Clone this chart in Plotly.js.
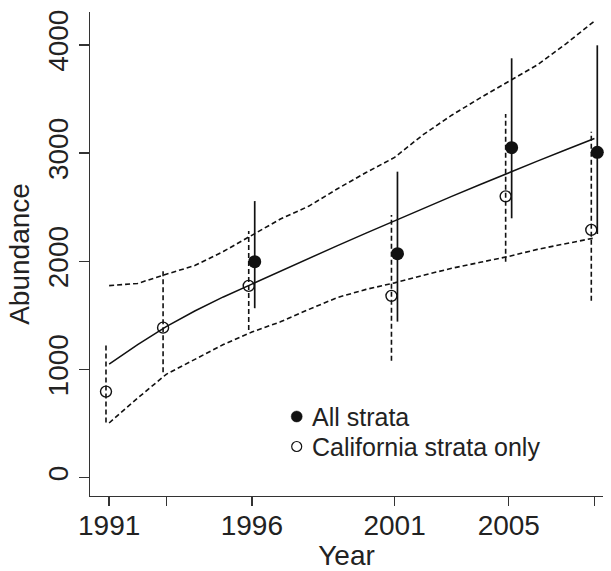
<!DOCTYPE html>
<html>
<head>
<meta charset="utf-8">
<script src="https://cdn.plot.ly/plotly-3.0.1.min.js"></script>
<style>
html,body{margin:0;padding:0;background:#fff;}
#chart{width:611px;height:571px;}
</style>
</head>
<body>
<div id="chart"></div>
<script>
// ---- data ----
const caYears = [1991, 1993, 1996, 2001, 2005, 2008];
const caEst   = [795, 1386, 1772, 1680, 2600, 2290];
const caLo    = [510, 975, 1365, 1081, 1996, 1636];
const caHi    = [1240, 1935, 2280, 2428, 3362, 3198];

const allYears = [1996, 2001, 2005, 2008];
const allEst   = [1996, 2070, 3050, 3007];
const allLo    = [1566, 1442, 2397, 2252];
const allHi    = [2556, 2828, 3876, 3996];

const fitYears = [1991,1992,1993,1994,1995,1996,1997,1998,1999,2000,2001,2002,2003,2004,2005,2006,2007,2008];
const fitMid   = [1050,1230,1395,1540,1670,1790,1910,2030,2145,2260,2375,2490,2600,2710,2820,2925,3030,3135];
const fitLo    = [505,735,955,1095,1230,1345,1440,1555,1665,1740,1800,1870,1935,1990,2045,2110,2165,2215];
const fitHi    = [1775,1795,1880,1960,2090,2240,2390,2510,2670,2820,2960,3170,3350,3510,3660,3815,4010,4220];

const xTickVals = [1991, 1993, 1996, 2001, 2005, 2008];
const xTickText = ["1991", "", "1996", "2001", "2005", ""];
const yTickVals = [0, 1000, 2000, 3000, 4000];
const yTickText = ["0", "1000", "2000", "3000", "4000"];

const seriesNames = ["All strata", "California strata only"];

// ---- style ----
const INK = "#111";
const TXT = "#222";
const CA_SHIFT = -0.11;
const ALL_SHIFT = 0.1;
const FONT = "'Liberation Sans', Arial, Helvetica, sans-serif";
const DASH = "5px,3px";

function segments(xs, lo, hi, shift) {
  const x = [], y = [];
  xs.forEach((v, i) => { x.push(v + shift, v + shift, null); y.push(lo[i], hi[i], null); });
  return {x, y};
}
const caSeg = segments(caYears, caLo, caHi, CA_SHIFT);
const allSeg = segments(allYears, allLo, allHi, ALL_SHIFT);

const traces = [
  {x: fitYears, y: fitHi, mode: "lines", line: {color: INK, width: 1.6, dash: DASH}, showlegend: false},
  {x: fitYears, y: fitLo, mode: "lines", line: {color: INK, width: 1.6, dash: DASH}, showlegend: false},
  {x: fitYears, y: fitMid, mode: "lines", line: {color: INK, width: 1.5}, showlegend: false},
  {x: caSeg.x, y: caSeg.y, mode: "lines", line: {color: INK, width: 1.6, dash: DASH}, showlegend: false, connectgaps: false},
  {x: allSeg.x, y: allSeg.y, mode: "lines", line: {color: INK, width: 1.7}, showlegend: false, connectgaps: false},
  {x: allYears.map(v => v + ALL_SHIFT), y: allEst, mode: "markers",
   marker: {symbol: "circle", size: 13, color: INK}, showlegend: false, cliponaxis: false},
  {x: caYears.map(v => v + CA_SHIFT), y: caEst, mode: "markers", xaxis: "x2",
   marker: {symbol: "circle-open", size: 11, color: INK, line: {width: 1.4, color: INK}}, showlegend: false, cliponaxis: false}
];

// legend drawn as key (plot area: x 90..603, y 12..496)
const PL = 90, PW = 513, PT = 12, PH = 484;
const px2x = p => (p - PL) / PW;
const px2y = p => 1 - (p - PT) / PH;
const keyX = 296.7, textX = 310, row1 = 416.5, row2 = 446.5;

const shapes = [
  {type: "circle", xref: "paper", yref: "paper", xsizemode: "pixel", ysizemode: "pixel",
   xanchor: px2x(keyX), yanchor: px2y(row1), x0: -5.5, x1: 5.5, y0: -5.5, y1: 5.5,
   fillcolor: INK, line: {color: INK, width: 0.5}},
  {type: "circle", xref: "paper", yref: "paper", xsizemode: "pixel", ysizemode: "pixel",
   xanchor: px2x(keyX), yanchor: px2y(row2), x0: -5, x1: 5, y0: -5, y1: 5,
   fillcolor: "rgba(0,0,0,0)", line: {color: INK, width: 1.2}}
];
const annotations = [
  {xref: "paper", yref: "paper", x: px2x(textX), y: px2y(row1), xanchor: "left", yanchor: "middle",
   text: seriesNames[0], showarrow: false, font: {family: FONT, size: 25, color: TXT}},
  {xref: "paper", yref: "paper", x: px2x(textX), y: px2y(row2), xanchor: "left", yanchor: "middle",
   text: seriesNames[1], showarrow: false, font: {family: FONT, size: 25, color: TXT}}
];

const layout = {
  width: 611, height: 571,
  margin: {l: 90, r: 8, t: 12, b: 75},
  paper_bgcolor: "#fff", plot_bgcolor: "rgba(0,0,0,0)",
  font: {family: FONT, color: TXT, size: 28},
  showlegend: false,
  shapes: shapes,
  annotations: annotations,
  xaxis: {
    range: [1990.33, 2008.3],
    tickmode: "array", tickvals: xTickVals, ticktext: xTickText,
    ticks: "outside", ticklen: 9, tickwidth: 1.3, tickcolor: "#333",
    showticklabels: false,
    showline: true, linecolor: "#333", linewidth: 1.3,
    showgrid: false, zeroline: false
  },
  xaxis2: {
    overlaying: "x", matches: "x", anchor: "y", side: "bottom",
    tickmode: "array", tickvals: xTickVals, ticktext: xTickText,
    ticks: "outside", ticklen: 4, tickwidth: 1, tickcolor: "rgba(0,0,0,0)",
    showline: false, showgrid: false, zeroline: false,
    tickfont: {family: FONT, size: 28, color: TXT},
    title: {text: "Year", font: {family: FONT, size: 28, color: TXT}, standoff: 16}
  },
  yaxis: {
    range: [-170, 4304],
    tickmode: "array", tickvals: yTickVals, ticktext: yTickText,
    tickangle: -90,
    ticks: "outside", ticklen: 10, tickwidth: 1.3, tickcolor: "#333",
    showline: true, linecolor: "#333", linewidth: 1.3,
    showgrid: false, zeroline: false,
    tickfont: {family: FONT, size: 28, color: TXT},
    title: {text: "Abundance", font: {family: FONT, size: 28, color: TXT}, standoff: 4}
  }
};

Plotly.newPlot("chart", traces, layout, {displayModeBar: false, staticPlot: true});
</script>
</body>
</html>
